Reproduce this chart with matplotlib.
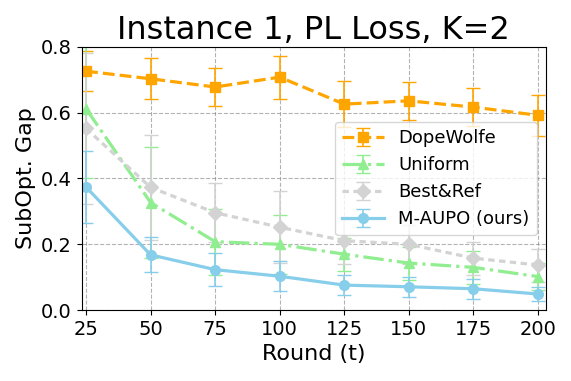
import numpy as np
import matplotlib
matplotlib.use('Agg')
import matplotlib.pyplot as plt

rounds = [25, 50, 75, 100, 125, 150, 175, 200]

dope_mean = [0.726, 0.703, 0.678, 0.708, 0.626, 0.636, 0.617, 0.592]
dope_err = [0.060, 0.062, 0.057, 0.065, 0.070, 0.057, 0.057, 0.062]

unif_mean = [0.612, 0.327, 0.208, 0.200, 0.170, 0.143, 0.130, 0.102]
unif_err = [0.210, 0.170, 0.100, 0.090, 0.050, 0.050, 0.050, 0.040]

best_mean = [0.552, 0.373, 0.296, 0.252, 0.211, 0.200, 0.158, 0.137]
best_err = [0.230, 0.160, 0.090, 0.110, 0.070, 0.060, 0.050, 0.050]

ours_mean = [0.374, 0.168, 0.123, 0.103, 0.076, 0.071, 0.065, 0.049]
ours_err = [0.110, 0.053, 0.050, 0.045, 0.030, 0.030, 0.030, 0.020]

fig = plt.figure(figsize=(5.71, 3.81), dpi=100)
ax = fig.add_axes([0.143, 0.186, 0.813, 0.691])

kw = dict(capsize=5, linewidth=2.3, markersize=7, elinewidth=1.2)
ax.errorbar(rounds, dope_mean, yerr=dope_err, color='orange', linestyle='--',
            marker='s', label='DopeWolfe', **kw)
ax.errorbar(rounds, unif_mean, yerr=unif_err, color='lightgreen', linestyle='-.',
            marker='^', label='Uniform', **kw)
ax.errorbar(rounds, best_mean, yerr=best_err, color='lightgray', linestyle=(0, (2, 1.4)),
            marker='D', label='Best&Ref', **kw)
ax.errorbar(rounds, ours_mean, yerr=ours_err, color='skyblue', linestyle='-',
            marker='o', label='M-AUPO (ours)', **kw)

ax.set_xlim(23.3, 203.1)
ax.set_ylim(0, 0.8)
ax.set_xticks(rounds)
ax.set_yticks([0.0, 0.2, 0.4, 0.6, 0.8])
ax.tick_params(labelsize=14)
ax.set_xlabel('Round (t)', fontsize=16)
ax.set_ylabel('SubOpt. Gap', fontsize=16)
ax.set_title('Instance 1, PL Loss, K=2', fontsize=23)
ax.grid(True, linestyle='--', color='gray', alpha=0.6)
ax.legend(fontsize=13, loc='center right', handlelength=2.3)

fig.savefig('out.png', dpi=100)
